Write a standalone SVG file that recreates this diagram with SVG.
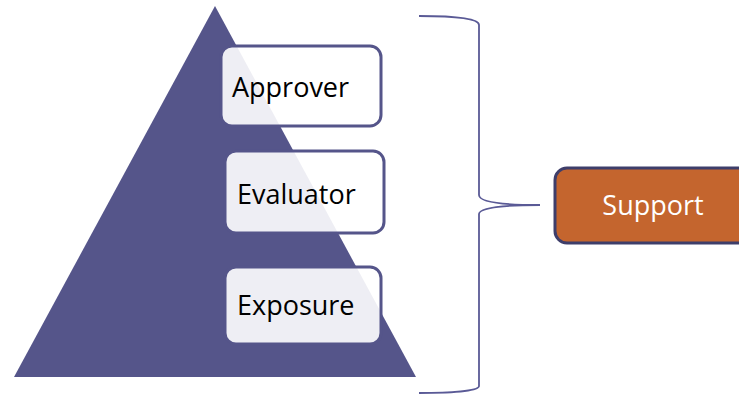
<svg xmlns="http://www.w3.org/2000/svg" width="739" height="394" viewBox="0 0 739 394">
<style>
.lvl{fill:#ffffff;fill-opacity:0.9;stroke:#55558a;stroke-width:3}
.lbl{font-family:"Open Sans","Noto Sans",sans-serif;font-size:27px;fill:#000000}
.brace{fill:none;stroke:#5a5a96;stroke-width:1.8}
</style>
<rect width="739" height="394" fill="#ffffff"/>
<g id="pyramid">
<polygon points="215,6 14,377 416,377" fill="#55558a"/>
</g>
<g id="approver">
<rect class="lvl" x="221" y="46" width="160" height="80" rx="11"/>
<text class="lbl" x="232" y="97">Approver</text>
</g>
<g id="evaluator">
<rect class="lvl" x="225" y="151" width="159" height="82" rx="11"/>
<text class="lbl" x="237" y="204">Evaluator</text>
</g>
<g id="exposure">
<rect class="lvl" x="225" y="267" width="156" height="77" rx="11"/>
<text class="lbl" x="237" y="315">Exposure</text>
</g>
<g id="connectors">
<path class="brace" d="M419,16 C450,16 479,18 479,25 L479,195 C479,203 510,205 540,205 C510,205 479,207 479,214 L479,386 C479,391 450,393 419,393"/>
</g>
<g id="support">
<rect x="555" y="168" width="200" height="75" rx="12" fill="#c4652e" stroke="#3e3e6a" stroke-width="3"/>
<text x="653" y="215" text-anchor="middle" font-family="Open Sans, Noto Sans, sans-serif" font-size="27" fill="#ffffff">Support</text>
</g>
</svg>
